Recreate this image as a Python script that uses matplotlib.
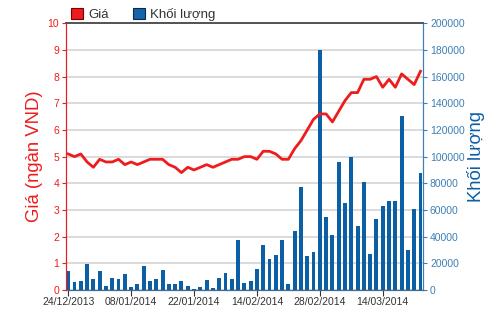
import numpy as np
import matplotlib
matplotlib.use("Agg")
import matplotlib.pyplot as plt
from matplotlib.patches import Patch

plt.rcParams['font.family'] = ['Liberation Sans Narrow', 'Liberation Sans', 'DejaVu Sans']

# ---- data ----
price = [5.1, 5.0, 5.1, 4.8, 4.6, 4.9, 4.8, 4.8, 4.9, 4.7,
         4.8, 4.7, 4.8, 4.9, 4.9, 4.9, 4.7, 4.6, 4.4, 4.6,
         4.5, 4.6, 4.7, 4.6, 4.7, 4.8, 4.9, 4.9, 5.0, 5.0,
         4.9, 5.2, 5.2, 5.1, 4.9, 4.9, 5.3, 5.6, 6.0, 6.4,
         6.6, 6.6, 6.3, 6.7, 7.1, 7.4, 7.4, 7.9, 7.9, 8.0,
         7.6, 7.9, 7.6, 8.1, 7.9, 7.7, 8.2]

volume = [14000, 6250, 7000, 19250, 8000, 14500, 3250, 9000, 8000, 12000,
          2250, 4750, 18250, 7000, 8250, 15000, 4750, 4750, 7000, 3000,
          750, 2250, 7750, 1500, 8750, 13000, 8000, 37500, 5500, 7000,
          16000, 33500, 23000, 26250, 37500, 4750, 44000, 77500, 25500, 28750,
          180000, 54500, 41000, 96250, 65500, 99500, 48000, 80750, 27000, 53000,
          63250, 67000, 67000, 130500, 29750, 61000, 87500]

tick_pos = [0, 10, 20, 30, 40, 50]
tick_labels = ['24/12/2013', '08/01/2014', '22/01/2014', '14/02/2014', '28/02/2014', '14/03/2014']

red = '#ee1c1c'
blue = '#0b5fa5'
axis_blue = '#3d7fb5'

x = np.arange(len(price))

fig = plt.figure(figsize=(5, 3.12), dpi=100)
ax = fig.add_axes([0.132, 0.0705, 0.714, 0.855])
ax2 = ax.twinx()

# volume bars on the right axis, behind the price line
ax2.bar(x, volume, width=0.62, color=blue, zorder=2)
ax2.set_ylim(0, 200000)
ax2.set_yticks(np.arange(0, 200001, 20000))
ax2.yaxis.grid(True, color='#d4d4d4', lw=1.2, zorder=0)
ax2.set_axisbelow(True)
ax2.tick_params(axis='y', colors=axis_blue, labelsize=7.5, length=3, width=0.8, pad=2)
ax2.set_ylabel('Khối lượng', color=blue, fontsize=13.3, labelpad=2,
               family=['Liberation Sans', 'DejaVu Sans'])

ax.set_zorder(ax2.get_zorder() + 1)
ax.patch.set_visible(False)
ax.plot(x, price, color=red, lw=2, solid_joinstyle='round')
ax.set_ylim(0, 10)
ax.set_yticks(range(0, 11))
ax.set_xlim(-0.35, len(price) - 0.6)
ax.tick_params(axis='y', colors=red, labelsize=7.5, length=3, width=0.8, pad=2)
ax.set_ylabel('Giá (ngàn VND)', color=red, fontsize=13.3, labelpad=3,
              family=['Liberation Sans', 'DejaVu Sans'])

ax.set_xticks(tick_pos)
ax.set_xticklabels(tick_labels)
ax.tick_params(axis='x', colors='#333333', labelsize=7.5, length=4, width=0.8, pad=1)

for a in (ax, ax2):
    a.spines['left'].set_color(red)
    a.spines['right'].set_color(axis_blue)
    a.spines['top'].set_color('#555555')
    a.spines['top'].set_linewidth(1.3)
    a.spines['bottom'].set_color('#4a6a8a')

handles = [Patch(facecolor=red, edgecolor='#7a0000', lw=0.8),
           Patch(facecolor='#1565a8', edgecolor='#0a2a4a', lw=0.8)]
fig.legend(handles, ['Giá', 'Khối lượng'], loc='upper left', bbox_to_anchor=(0.118, 1.013),
           ncol=2, frameon=False, handlelength=0.9, handleheight=0.9,
           handletextpad=0.4, columnspacing=1.85, labelcolor='#333333',
           prop={'family': ['Liberation Sans', 'DejaVu Sans'], 'size': 9.5})

fig.savefig('out.png', dpi=100)
